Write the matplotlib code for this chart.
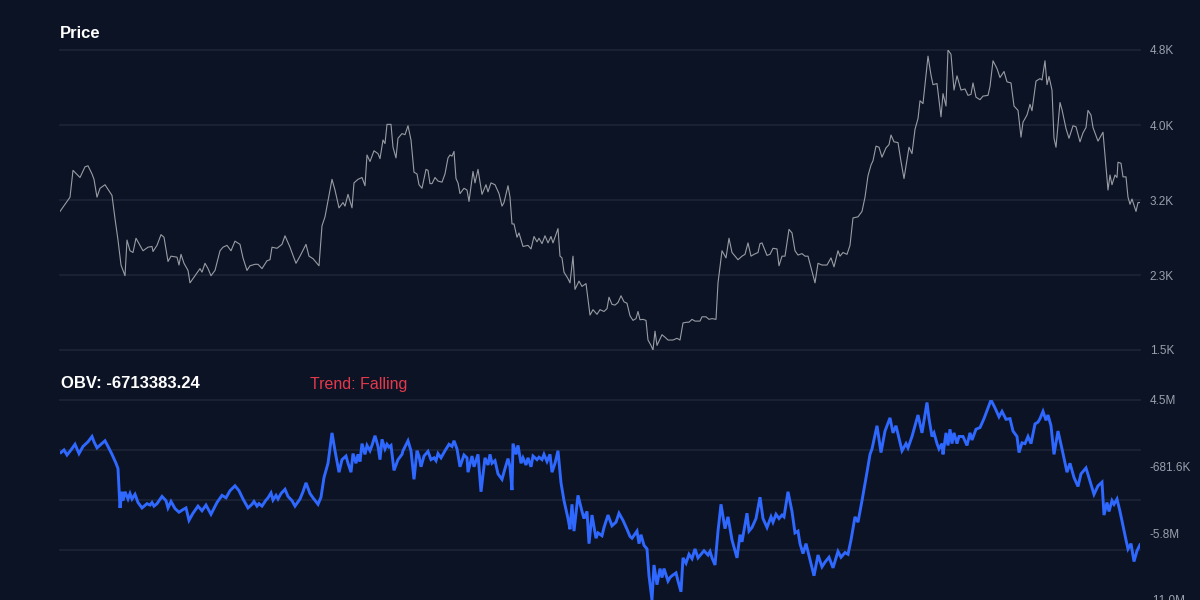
import numpy as np
import matplotlib
matplotlib.use("Agg")
import matplotlib.pyplot as plt
from matplotlib.ticker import FuncFormatter

plt.rcParams['font.family'] = ['Liberation Sans', 'DejaVu Sans']

# price series (step index, price)
price_step = [0, 5, 10, 13, 20, 25, 28, 32, 34, 37, 40, 45, 52, 55, 58, 61, 65, 67, 70, 73, 76, 80, 83, 88, 92, 93, 97,
              101, 104, 108, 111, 117, 119, 121, 124, 128, 130, 135, 140, 142, 145, 148, 151, 155, 160, 163, 167, 171,
              175, 180, 183, 187, 190, 195, 198, 202, 207, 210, 212, 217, 222, 225, 230, 233, 236, 240, 246, 249, 253,
              257, 259, 262, 265, 268, 272, 275, 279, 283, 285, 288, 292, 294, 298, 302, 305, 307, 310, 314, 318, 320,
              323, 325, 327, 331, 333, 336, 338, 342, 345, 348, 351, 354, 357, 359, 362, 366, 368, 370, 372, 375, 378,
              382, 385, 388, 390, 392, 394, 396, 398, 400, 404, 407, 409, 413, 415, 418, 422, 426, 428, 431, 435, 439,
              442, 444, 448, 450, 452, 454, 457, 459, 463, 468, 471, 474, 477, 479, 482, 485, 488, 491, 493, 498, 500,
              502, 504, 508, 510, 513, 515, 519, 522, 526, 530, 533, 537, 540, 544, 547, 549, 552, 555, 558, 561, 564,
              567, 570, 573, 576, 578, 580, 583, 586, 588, 591, 593, 595, 597, 602, 605, 608, 613, 617, 620, 623, 627,
              629, 632, 635, 640, 642, 646, 649, 652, 656, 658, 662, 666, 669, 672, 678, 682, 685, 688, 691, 694, 698,
              700, 702, 707, 710, 713, 717, 719, 722, 725, 729, 732, 735, 738, 742, 745, 748, 752, 755, 758, 762, 767,
              771, 774, 778, 780, 783, 787, 790, 793, 798, 802, 805, 808, 811, 813, 816, 819, 822, 826, 829, 831, 834,
              838, 841, 844, 849, 852, 855, 858, 860, 863, 868, 871, 873, 877, 881, 883, 886, 888, 891, 894, 897, 901,
              905, 908, 911, 913, 916, 920, 923, 928, 930, 933, 937, 940, 944, 947, 951, 954, 958, 961, 963, 967, 970,
              972, 976, 980, 982, 985, 987, 989, 992, 994, 996, 1000, 1002, 1006, 1009, 1013, 1016, 1020, 1023, 1026,
              1028, 1031, 1033, 1038, 1043, 1048, 1050, 1052, 1055, 1057, 1058, 1061, 1063, 1066, 1068, 1070, 1072,
              1076, 1078, 1080]
price = [3035, 3113, 3191, 3484, 3406, 3523, 3534, 3445, 3386, 3191, 3288, 3327, 3210, 2956, 2722, 2449, 2332, 2722,
         2605, 2586, 2742, 2664, 2605, 2644, 2652, 2597, 2664, 2781, 2753, 2488, 2546, 2535, 2449, 2566, 2468, 2390,
         2254, 2332, 2410, 2371, 2468, 2410, 2332, 2390, 2605, 2644, 2664, 2605, 2710, 2675, 2527, 2390, 2441, 2457,
         2457, 2410, 2496, 2507, 2644, 2632, 2675, 2769, 2644, 2554, 2468, 2546, 2675, 2546, 2519, 2468, 2441, 2878,
         2976, 3152, 3386, 3269, 3074, 3132, 3093, 3222, 3074, 3347, 3386, 3406, 3316, 3652, 3581, 3698, 3667, 3612,
         3816, 3777, 3987, 3987, 3737, 3620, 3835, 3886, 3874, 3972, 3816, 3464, 3445, 3327, 3288, 3495, 3484, 3339,
         3339, 3406, 3367, 3355, 3445, 3620, 3652, 3640, 3691, 3394, 3347, 3230, 3288, 3269, 3144, 3472, 3347, 3495,
         3222, 3327, 3249, 3347, 3327, 3230, 3093, 3132, 3316, 3191, 2898, 2898, 2753, 2800, 2652, 2664, 2625, 2761,
         2703, 2742, 2683, 2769, 2691, 2761, 2691, 2847, 2546, 2527, 2371, 2300, 2254, 2546, 2183, 2273, 2215, 2246,
         1902, 1961, 1910, 1961, 1941, 1972, 2097, 2019, 2011, 2039, 2113, 2047, 2031, 1894, 1844, 1863, 1941, 1851,
         1855, 1844, 1629, 1570, 1520, 1726, 1570, 1687, 1660, 1629, 1629, 1648, 1629, 1816, 1824, 1824, 1855, 1836,
         1836, 1883, 1883, 1855, 1863, 1855, 2254, 2605, 2527, 2742, 2586, 2507, 2546, 2566, 2691, 2546, 2566, 2586,
         2683, 2691, 2554, 2566, 2632, 2625, 2441, 2546, 2546, 2839, 2800, 2605, 2558, 2574, 2546, 2546, 2379, 2254,
         2468, 2449, 2449, 2527, 2429, 2605, 2546, 2586, 2566, 2664, 2964, 2976, 3035, 3191, 3425, 3542, 3589, 3749,
         3737, 3628, 3730, 3765, 3870, 3796, 3788, 3581, 3394, 3737, 3667, 3933, 4050, 4245, 4214, 4733, 4526, 4421,
         4433, 4069, 4323, 4187, 4800, 4753, 4362, 4518, 4362, 4374, 4304, 4315, 4440, 4284, 4257, 4296, 4304, 4401,
         4682, 4597, 4499, 4565, 4452, 4440, 4187, 4140, 3847, 4011, 4089, 4206, 4136, 4460, 4487, 4472, 4682, 4421,
         4511, 4362, 3835, 3737, 4226, 4148, 3941, 3835, 3972, 3960, 3796, 3894, 3952, 4140, 4089, 3952, 3804, 3901,
         3269, 3433, 3327, 3433, 3406, 3573, 3562, 3413, 3413, 3191, 3113, 3171, 3035, 3132, 3132]

# OBV series (step index, millions)
obv_step = [1, 4, 7, 11, 15, 19, 23, 28, 32, 34, 37, 41, 45, 48, 52, 56, 58, 60, 62, 63, 65, 68, 70, 72, 75, 78, 82, 87,
            90, 92, 94, 97, 102, 106, 108, 111, 115, 119, 123, 126, 129, 133, 138, 142, 146, 151, 157, 162, 166, 170,
            175, 179, 183, 188, 192, 194, 197, 199, 202, 206, 208, 211, 213, 216, 218, 221, 225, 228, 232, 235, 240,
            243, 246, 250, 253, 258, 261, 264, 268, 272, 275, 279, 282, 286, 288, 291, 293, 296, 298, 300, 302, 305,
            307, 310, 312, 315, 318, 320, 322, 325, 327, 329, 331, 334, 338, 342, 343, 348, 351, 354, 357, 359, 361,
            364, 368, 371, 374, 376, 378, 381, 385, 389, 392, 394, 397, 400, 404, 407, 408, 412, 414, 418, 421, 425,
            428, 430, 432, 435, 438, 442, 445, 448, 450, 452, 453, 456, 458, 461, 463, 466, 468, 471, 473, 477, 479,
            482, 484, 487, 490, 492, 495, 498, 501, 504, 508, 510, 512, 514, 518, 522, 524, 527, 529, 532, 536, 538,
            542, 544, 548, 552, 556, 559, 563, 567, 570, 572, 577, 579, 581, 584, 587, 589, 592, 594, 597, 600, 602,
            604, 608, 610, 612, 616, 618, 621, 623, 626, 629, 632, 635, 638, 641, 644, 648, 650, 652, 655, 658, 661,
            665, 668, 672, 677, 680, 682, 687, 689, 692, 696, 700, 703, 707, 711, 713, 716, 719, 722, 724, 728, 732,
            735, 738, 740, 743, 746, 750, 754, 758, 762, 765, 769, 773, 778, 781, 785, 788, 791, 795, 798, 802, 807,
            810, 812, 817, 821, 825, 830, 833, 836, 839, 842, 846, 848, 852, 855, 858, 862, 867, 869, 872, 874, 877,
            879, 882, 883, 886, 888, 890, 892, 894, 897, 899, 903, 907, 910, 912, 916, 920, 924, 928, 931, 935, 939,
            942, 946, 950, 953, 957, 959, 962, 965, 968, 971, 975, 978, 980, 983, 986, 988, 991, 994, 998, 1002, 1007,
            1010, 1014, 1018, 1021, 1026, 1030, 1034, 1038, 1042, 1044, 1047, 1049, 1052, 1054, 1057, 1060, 1063,
            1066, 1068, 1071, 1074, 1077, 1080]
obv_m = [0.41, 0.61, 0.22, 0.61, 1.05, 0.33, 0.88, 1.24, 1.65, 1.24, 0.77, 1.05, 1.32, 0.88, 0.27, -0.42, -0.83,
         -3.87, -2.62, -3.31, -2.62, -3.18, -2.76, -3.18, -2.82, -3.45, -3.87, -3.54, -3.65, -3.45, -3.73, -3.54,
         -2.98, -3.31, -3.87, -3.37, -3.92, -4.20, -4.00, -3.87, -4.83, -4.28, -3.73, -4.09, -3.65, -4.36, -3.45,
         -2.90, -3.09, -2.54, -2.16, -2.54, -3.18, -3.87, -3.59, -3.37, -3.73, -3.54, -3.73, -3.26, -3.09, -2.71,
         -3.26, -2.90, -3.18, -2.76, -2.43, -2.98, -3.31, -3.73, -3.18, -2.62, -1.93, -2.76, -3.09, -3.59, -3.04,
         -1.52, -0.42, 1.93, 0.55, -1.11, -0.14, 0.14, -0.42, -1.11, 0.33, -0.42, 0.27, -0.28, 1.10, 0.27, 0.96,
         0.55, 0.96, 1.71, 0.88, -0.14, 1.43, 0.69, 1.05, 0.83, 0.96, -0.97, -0.14, 0.27, 0.55, 1.32, 0.55, -1.66,
         0.55, 0.14, -0.69, 0.14, 0.50, -0.14, 0.00, -0.22, 0.33, 0.00, 0.55, 1.05, 0.88, 1.32, 0.69, -0.69, 0.22,
         0.00, -1.11, 0.14, -0.69, 0.27, -2.62, 0.00, -0.55, 0.27, -0.42, -0.22, -1.24, -1.66, -0.83, -0.06, -0.69,
         -2.49, 1.10, 0.27, 0.96, -0.42, 0.00, -0.55, 0.00, -0.69, 0.14, -0.14, 0.05, -0.14, 0.27, -0.28, 0.27,
         -1.11, -0.42, 0.55, -1.93, -3.31, -4.69, -5.52, -3.59, -5.66, -2.90, -4.14, -4.69, -4.14, -6.63, -4.42,
         -6.21, -5.80, -6.02, -5.38, -4.42, -5.25, -4.97, -4.28, -4.83, -5.52, -6.07, -6.21, -5.66, -6.63, -5.94,
         -6.76, -7.04, -9.11, -10.9848, -8.28, -9.80, -8.56, -9.25, -8.56, -9.52, -9.25, -9.11, -8.89, -9.52, -10.35,
         -7.73, -8.14, -7.45, -7.79, -7.04, -7.73, -7.45, -7.18, -7.51, -7.23, -7.73, -8.28, -5.66, -3.59, -5.47,
         -4.56, -6.35, -7.73, -5.94, -6.49, -4.28, -5.66, -5.38, -4.69, -3.04, -4.69, -5.38, -4.56, -4.97, -4.36,
         -4.69, -4.42, -4.56, -2.62, -4.14, -5.80, -5.66, -6.63, -7.40, -6.63, -7.87, -9.11, -7.51, -8.42, -8.06,
         -7.68, -8.50, -7.23, -7.68, -7.32, -7.45, -6.35, -4.56, -4.97, -3.31, -1.11, 0.27, 0.69, 2.48, 0.41, 2.07,
         3.09, 1.93, 2.48, 1.52, 0.55, 1.10, 0.77, 1.65, 2.48, 3.31, 1.93, 4.28, 3.03, 1.65, 1.93, 1.10, 0.69, 1.10,
         0.27, 1.93, 0.96, 2.21, 1.10, 1.93, 1.10, 1.65, 1.65, 0.96, 1.93, 1.38, 2.21, 2.34, 3.03, 3.86, 4.47, 3.86,
         3.17, 3.59, 2.98, 3.03, 2.07, 1.65, 0.41, 1.16, 1.10, 1.65, 1.10, 2.62, 2.76, 3.03, 3.59, 2.90, 3.31, 2.48,
         0.27, 2.07, 0.69, -1.11, -0.42, -1.52, -2.21, -1.24, -0.78, -1.80, -2.82, -2.16, -1.88, -4.42, -3.45,
         -4.14, -3.31, -3.59, -3.18, -4.14, -5.25, -6.35, -7.04, -6.63, -8.01, -7.18, -6.713383]

obv_last = -6713383.24
trend = "Falling"

BG = "#0b1325"
GRID = "#1d2536"
LABEL = "#9aa1ad"

fig = plt.figure(figsize=(12, 6), dpi=100, facecolor=BG)
ax1 = fig.add_axes([0.05, 1 - 350 / 600, 0.90, 300 / 600])
ax2 = fig.add_axes([0.05, 0.0, 0.90, 200 / 600])

obv = np.array(obv_m) * 1e6

for ax in (ax1, ax2):
    ax.set_facecolor(BG)
    for s in ax.spines.values():
        s.set_visible(False)
    ax.set_xlim(min(price_step), max(price_step))
    ax.set_xticks([])
    ax.yaxis.tick_right()
    ax.tick_params(axis='y', length=0, pad=7, labelsize=8.5, labelcolor=LABEL)

# price panel
ax1.plot(price_step, price, color="#999ca3", lw=0.8, zorder=3)
plo, phi = min(price), max(price)
ax1.set_ylim(plo, phi)
ax1.set_yticks(np.linspace(plo, phi, 5))
ax1.yaxis.set_major_formatter(FuncFormatter(lambda v, p: f"{v / 1000:.1f}K"))
for yv in np.linspace(plo, phi, 5):
    ax1.axhline(yv, color=GRID, lw=1.2, zorder=1, clip_on=False)


def fmt_obv(v, p=None):
    if abs(v) >= 1e6:
        return f"{v / 1e6:.1f}M"
    return f"{v / 1e3:.1f}K"


# OBV panel
ax2.plot(obv_step, obv, color="#2f68ff", lw=2.1, zorder=3, solid_joinstyle='miter')
olo, ohi = obv.min(), obv.max()
ax2.set_ylim(olo, ohi)
ax2.set_yticks(np.linspace(ohi, olo, 4))
ax2.yaxis.set_major_formatter(FuncFormatter(fmt_obv))
for yv in np.linspace(ohi, olo, 5)[:-1]:
    ax2.axhline(yv, color=GRID, lw=1.2, zorder=1, clip_on=False)

fig.text(60 / 1200, 1 - 34 / 600, "Price", color="white", fontsize=12, fontweight="bold", va="center", ha="left")
fig.text(61 / 1200, 1 - 384 / 600, f"OBV: {obv_last:.2f}", color="white", fontsize=12, fontweight="bold",
         va="center", ha="left")
fig.text(310 / 1200, 1 - 384 / 600, f"Trend: {trend}", color="#e5394b", fontsize=11.5, va="center", ha="left")

fig.savefig("out.png", dpi=100, facecolor=BG)
